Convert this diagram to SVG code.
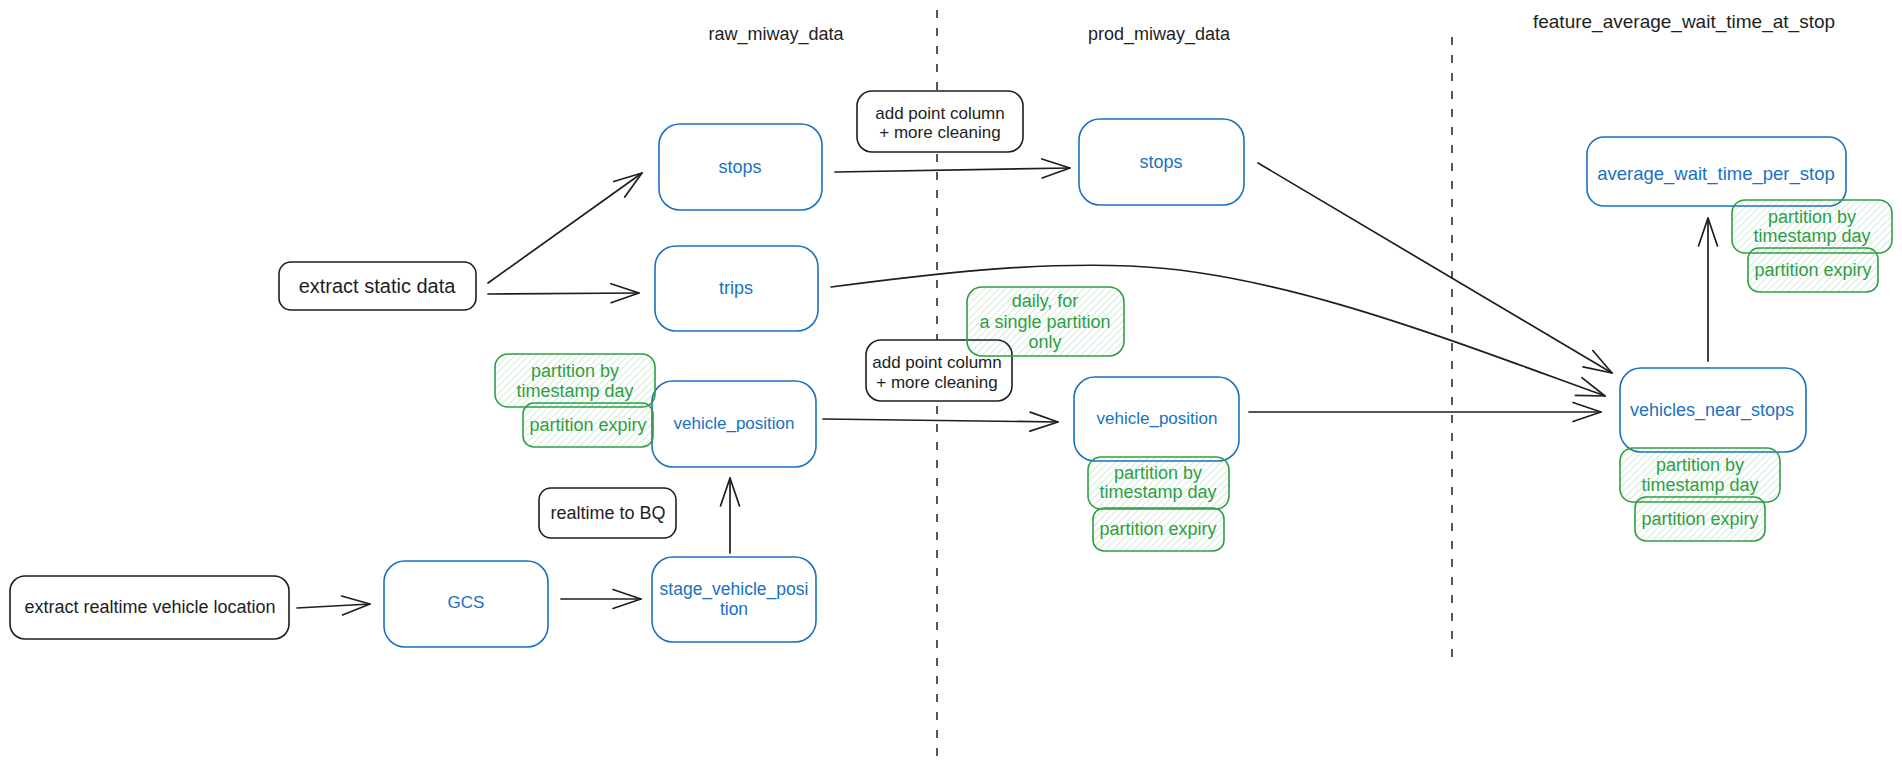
<svg xmlns="http://www.w3.org/2000/svg" width="1902" height="772" viewBox="0 0 1902 772">
<style>
text{font-family:"Liberation Sans",Arial,sans-serif;font-size:18px;text-anchor:middle;dominant-baseline:central}
.k{fill:#1e1e1e}
.b{fill:#1971c2}
.g{fill:#2f9e44}
.bk{fill:#ffffff;stroke:#1e1e1e;stroke-width:1.6}
.bl{fill:#ffffff;stroke:#1971c2;stroke-width:1.6}
.gr{fill:url(#hatch);stroke:#2f9e44;stroke-width:1.6}
.c path,.c line{fill:none;stroke:#1e1e1e;stroke-width:1.7;stroke-linecap:round;marker-end:url(#ah)}
.dash{stroke:#1e1e1e;stroke-width:1.5;stroke-dasharray:8 10}
</style>
<defs>
<pattern id="hatch" patternUnits="userSpaceOnUse" width="5" height="5" patternTransform="rotate(45)">
<line x1="0" y1="0" x2="0" y2="5" stroke="#2f9e44" stroke-opacity="0.35" stroke-width="1.2"/>
</pattern>
<marker id="ah" markerUnits="userSpaceOnUse" markerWidth="40" markerHeight="30" viewBox="-32 -15 34 30" refX="0" refY="0" orient="auto" overflow="visible">
<path d="M-28,-9.5 L0,0 L-28,9.5" fill="none" stroke="#1e1e1e" stroke-width="1.7" stroke-linecap="round" stroke-linejoin="round"/>
</marker>
</defs>
<rect width="1902" height="772" fill="#ffffff"/>

<g id="dividers">
<line class="dash" x1="937" y1="10" x2="937" y2="762"/>
<line class="dash" x1="1452" y1="37" x2="1452" y2="657"/>
</g>

<g id="headers">
<text class="k" x="776" y="34">raw_miway_data</text>
<text class="k" x="1159" y="34">prod_miway_data</text>
<text class="k" x="1684" y="21" style="font-size:19px">feature_average_wait_time_at_stop</text>
</g>

<g id="connectors" class="c">
<line x1="488" y1="283" x2="642" y2="173"/>
<line x1="488" y1="294" x2="639" y2="293"/>
<line x1="835" y1="172" x2="1070" y2="168"/>
<path d="M831,287 C931,274 1030,262 1130,266 C1280,272 1450,340 1605,396"/>
<line x1="1258" y1="163" x2="1612" y2="373"/>
<line x1="823" y1="419" x2="1058" y2="422"/>
<line x1="1249" y1="412" x2="1601" y2="412"/>
<line x1="1708" y1="361" x2="1708" y2="218"/>
<line x1="730" y1="553" x2="730" y2="478"/>
<line x1="297" y1="608" x2="370" y2="604"/>
<line x1="561" y1="599" x2="641" y2="599"/>
</g>

<g id="extract_static_data">
<rect class="bk" x="279" y="262" width="197" height="48" rx="12"/>
<text class="k" x="377" y="286" style="font-size:20px">extract static data</text>
</g>
<g id="add_point_column_stops">
<rect class="bk" x="857" y="91" width="166" height="61" rx="15"/>
<text class="k" x="940" y="113" style="font-size:17px">add point column</text>
<text class="k" x="940" y="132" style="font-size:17px">+ more cleaning</text>
</g>
<g id="add_point_column_vehicle">
<rect class="bk" x="866" y="340" width="146" height="61" rx="15"/>
<text class="k" x="937" y="362" style="font-size:17px">add point column</text>
<text class="k" x="937" y="382" style="font-size:17px">+ more cleaning</text>
</g>
<g id="realtime_to_bq">
<rect class="bk" x="539" y="488" width="137" height="50" rx="12"/>
<text class="k" x="608" y="513">realtime to BQ</text>
</g>
<g id="extract_realtime_vehicle_location">
<rect class="bk" x="10" y="576" width="279" height="63" rx="15"/>
<text class="k" x="150" y="607">extract realtime vehicle location</text>
</g>

<g id="raw_stops">
<rect class="bl" x="659" y="124" width="163" height="86" rx="21"/>
<text class="b" x="740" y="167">stops</text>
</g>
<g id="raw_trips">
<rect class="bl" x="655" y="246" width="163" height="85" rx="21"/>
<text class="b" x="736" y="288">trips</text>
</g>
<g id="raw_vehicle_position">
<rect class="bl" x="652" y="381" width="164" height="86" rx="21"/>
<text class="b" x="734" y="423" style="font-size:17px">vehicle_position</text>
</g>
<g id="gcs">
<rect class="bl" x="384" y="561" width="164" height="86" rx="21"/>
<text class="b" x="466" y="602" style="font-size:17px">GCS</text>
</g>
<g id="stage_vehicle_position">
<rect class="bl" x="652" y="557" width="164" height="85" rx="21"/>
<text class="b" x="734" y="589" style="font-size:17.5px">stage_vehicle_posi</text>
<text class="b" x="734" y="609" style="font-size:17.5px">tion</text>
</g>
<g id="prod_stops">
<rect class="bl" x="1079" y="119" width="165" height="86" rx="21"/>
<text class="b" x="1161" y="162">stops</text>
</g>
<g id="prod_vehicle_position">
<rect class="bl" x="1074" y="377" width="165" height="84" rx="21"/>
<text class="b" x="1157" y="418" style="font-size:17px">vehicle_position</text>
</g>
<g id="vehicles_near_stops">
<rect class="bl" x="1620" y="368" width="186" height="84" rx="21"/>
<text class="b" x="1712" y="410">vehicles_near_stops</text>
</g>
<g id="average_wait_time_per_stop">
<rect class="bl" x="1587" y="137" width="259" height="69" rx="17"/>
<text class="b" x="1716" y="173" style="font-size:18.5px">average_wait_time_per_stop</text>
</g>

<g id="raw_partition_by">
<rect class="gr" x="495" y="354" width="160" height="53" rx="13"/>
<text class="g" x="575" y="371">partition by</text>
<text class="g" x="575" y="391">timestamp day</text>
</g>
<g id="raw_partition_expiry">
<rect class="gr" x="523" y="403" width="130" height="44" rx="11"/>
<text class="g" x="588" y="425">partition expiry</text>
</g>
<g id="daily_single_partition">
<rect class="gr" x="967" y="287" width="157" height="69" rx="15"/>
<text class="g" x="1045" y="301">daily, for</text>
<text class="g" x="1045" y="322">a single partition</text>
<text class="g" x="1045" y="342">only</text>
</g>
<g id="prod_partition_by">
<rect class="gr" x="1088" y="457" width="141" height="52" rx="13"/>
<text class="g" x="1158" y="473">partition by</text>
<text class="g" x="1158" y="492">timestamp day</text>
</g>
<g id="prod_partition_expiry">
<rect class="gr" x="1093" y="508" width="131" height="43" rx="11"/>
<text class="g" x="1158" y="529">partition expiry</text>
</g>
<g id="vns_partition_by">
<rect class="gr" x="1620" y="448" width="160" height="54" rx="13"/>
<text class="g" x="1700" y="465">partition by</text>
<text class="g" x="1700" y="485">timestamp day</text>
</g>
<g id="vns_partition_expiry">
<rect class="gr" x="1635" y="497" width="130" height="44" rx="11"/>
<text class="g" x="1700" y="519">partition expiry</text>
</g>
<g id="avg_partition_by">
<rect class="gr" x="1732" y="200" width="160" height="53" rx="13"/>
<text class="g" x="1812" y="217">partition by</text>
<text class="g" x="1812" y="236">timestamp day</text>
</g>
<g id="avg_partition_expiry">
<rect class="gr" x="1748" y="248" width="130" height="44" rx="11"/>
<text class="g" x="1813" y="270">partition expiry</text>
</g>
</svg>
